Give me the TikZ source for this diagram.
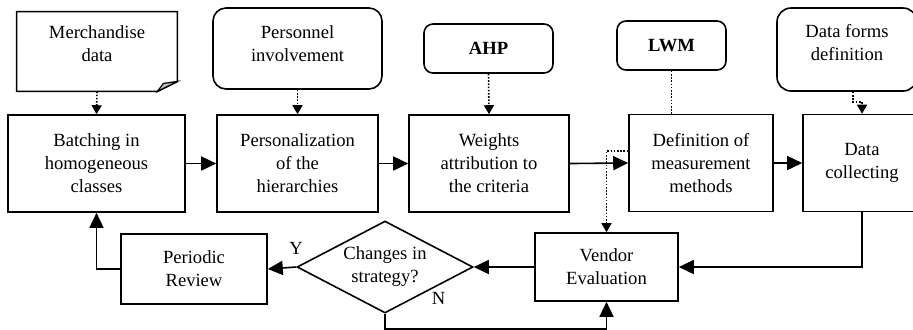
\documentclass[tikz,border=0pt]{standalone}
\usepackage{fontspec}
\setmainfont{Liberation Serif}
\usetikzlibrary{shapes.geometric, arrows.meta, calc}

\begin{document}
\begin{tikzpicture}[
    x=0.5pt, y=-0.5pt,
    stepBox/.style={draw, line width=0.8pt, minimum height=48.5pt},
    docBox/.style={inner ysep=0pt, minimum width=80pt},
    sourceBox/.style={draw, line width=0.8pt, rounded corners=6.5pt, inner ysep=0pt},
    methodBox/.style={draw, line width=0.8pt, rounded corners=4.5pt, minimum height=24.5pt,
        font=\fontsize{9.3}{11.5}\selectfont\bfseries},
    flowArrow/.style={->, >={Triangle[length=7.5pt, width=7pt]}, line width=0.8pt},
    dotLine/.style={line width=0.8pt, dash pattern=on 0.8pt off 0.8pt},
    dotArrow/.style={dotLine, ->, >={Triangle[length=4.5pt, width=5pt]}},
    every node/.style={
        text centered, align=center,
        font=\fontsize{9.3}{11.5}\selectfont
        }
        ]
    \useasboundingbox (0, 0) rectangle (913, 329);
    \clip (0, 0) rectangle (913, 329);

    % inputs
    \node[docBox, text height=24.5pt, text depth=15pt] (merch) at (97, 51.5) {Merchandise\\data};
    \node[sourceBox, minimum width=84.5pt, text height=26.5pt, text depth=14pt] (staff) at (297.5, 48.5) {Personnel\\involvement};
    \node[methodBox, minimum width=64.5pt] (ahp) at (488.5, 48.5) {AHP};
    \node[methodBox, minimum width=54.5pt] (lwm) at (671.5, 45.5) {LWM};
    \node[sourceBox, rounded corners=7pt, minimum width=70pt, text height=26.3pt, text depth=15.2pt] (forms) at (847, 49.5) {Data forms\\definition};

    \draw[line width=0.8pt] (merch.north west) -- (merch.north east) -- ($(merch.south east)+(0,-10)$) -- ($(merch.south east)+(-20,0)$) -- (merch.south west) -- cycle;
    \filldraw[fill=gray!50, line width=0.6pt] ($(merch.south east)+(-20,0)$) -- ($(merch.south east)+(-14,-8)$) -- ($(merch.south east)+(0,-10)$) -- cycle;

    % main steps
    \node[stepBox, minimum width=88.5pt] (batch) at (96.5, 163.5) {Batching in\\homogeneous\\classes};
    \node[stepBox, minimum width=80.5pt] (person) at (297.5, 163.5) {Personalization\\of the\\hierarchies};
    \node[stepBox, minimum width=80pt] (weights) at (489, 163.5) {Weights\\attribution to\\the criteria};
    \node[stepBox, minimum width=72pt] (defin) at (701, 163) {Definition of\\measurement\\methods};
    \node[stepBox, minimum width=59pt] (collect) at (862, 163) {Data\\collecting};

    \node[stepBox, minimum width=73pt, minimum height=35pt] (review) at (194, 269) {Periodic\\Review};
    \node[draw, line width=0.8pt, diamond, aspect=1.9, inner sep=0pt, minimum width=88pt, minimum height=46pt] (decision) at (385, 267) {Changes in\\strategy?};
    \node[stepBox, minimum width=71.5pt, minimum height=34pt] (vendor) at (606.5, 267) {Vendor\\Evaluation};

    % dotted inputs
    \draw[dotArrow] (merch.south) -- (batch.north);
    \draw[dotArrow] (staff.south) -- (person.north);
    \draw[dotArrow] (ahp.south) -- (weights.north);
    \draw[dotLine] (lwm.south) -- (lwm.south |- defin.north);
    \draw[dotArrow] ($(defin.west)+(0,-12)$) -| (vendor.north);
    \draw[dotArrow] ($(forms.south)+(6,0)$) -- ++(0, 10) -| (collect.north);

    % flow
    \draw[flowArrow] (batch.east) -- (person.west);
    \draw[flowArrow] (person.east) -- (weights.west);
    \draw[flowArrow] (weights.east) -- (defin.west);
    \draw[flowArrow] (defin.east) -- (collect.west);
    \draw[flowArrow] (collect.south) |- (vendor.east);
    \draw[flowArrow] (vendor.west) -- (decision.east);
    \draw[flowArrow] (decision.west) -- node[pos=0, above, yshift=2.5pt] (yesLabel) {Y} (review.east);
    \draw[flowArrow] (review.west) -| (batch.south);
    \draw[flowArrow] (decision.south) -- ++(0, 15) -| (vendor.south);
    \node[below right, inner sep=1pt] (noLabel) at (decision.south east) {N};
\end{tikzpicture}
\end{document}
